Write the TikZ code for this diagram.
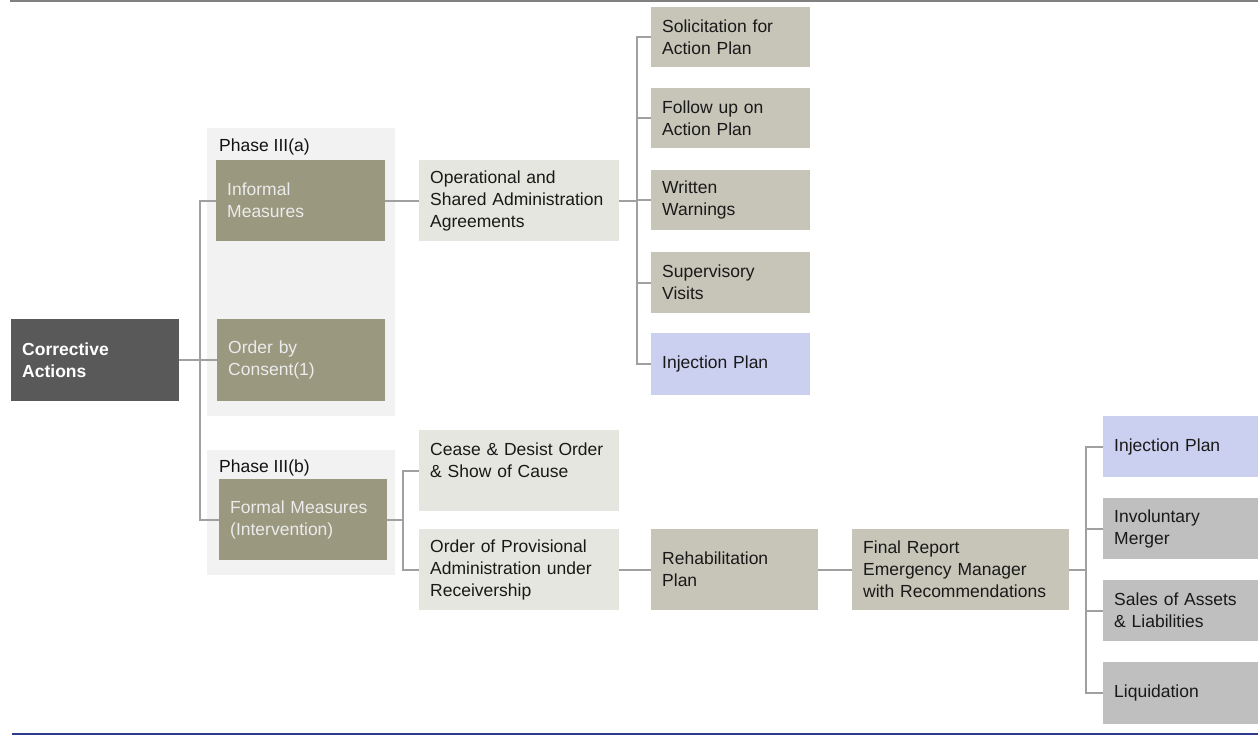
\documentclass[tikz,border=0pt]{standalone}
\usepackage{fontspec}
\setmainfont{Liberation Sans}
\usepackage{xcolor}
\usetikzlibrary{positioning,calc}

\definecolor{boxdark}{HTML}{595959}
\definecolor{boxolive}{HTML}{9B9880}
\definecolor{boxpale}{HTML}{E6E6E0}
\definecolor{boxtan}{HTML}{C7C5B8}
\definecolor{boxlilac}{HTML}{CCD0F0}
\definecolor{boxgrey}{HTML}{BFBFBF}
\definecolor{phasebg}{HTML}{F2F2F2}
\definecolor{linkgrey}{HTML}{A0A0A0}
\definecolor{rulenavy}{HTML}{2E3A8C}

\tikzset{
    card/.style args={#1/#2}{rectangle, anchor=north west, minimum width=#1pt,
        minimum height=#2pt, inner xsep=11pt, inner ysep=0pt, text width={(#1-22)*1pt},
        align=left, font=\fontsize{17.5}{22}\selectfont},
    dark/.style={fill=boxdark, text=white, font=\fontsize{17.5}{22}\selectfont\bfseries},
    olive/.style={fill=boxolive, text=white!92!black},
    pale/.style={fill=boxpale, text=black!90},
    tan/.style={fill=boxtan, text=black!90},
    lilac/.style={fill=boxlilac, text=black!90},
    grey/.style={fill=boxgrey, text=black!90},
    phase/.style={anchor=west, inner sep=0pt, font=\fontsize{17.5}{22}\selectfont, text=black!93},
    link/.style={draw=linkgrey, line width=2pt}
}

\begin{document}
\begin{tikzpicture}[x=1pt, y=-1pt]
    \useasboundingbox (0,0) rectangle (1258,736);
    % page rules
    \draw[gray, line width=2pt] (10,1) -- (1258,1);
    \draw[rulenavy, line width=2.5pt] (12,734) -- (1258,734);

    % phase backgrounds
    \fill[phasebg] (207,128) rectangle (395,416);
    \fill[phasebg] (207,450) rectangle (395,575);
    \node[phase] (phasea) at (219,147) {Phase III(a)};
    \node[phase] (phaseb) at (219,468) {Phase III(b)};

    % root and phase measures
    \node[card=168/82, dark] (corr) at (11,319) {Corrective\\Actions};
    \node[card=169/81, olive] (informal) at (216,160) {Informal\\Measures};
    \node[card=168/82, olive] (consent) at (217,319) {Order by\\Consent(1)};
    \node[card=168/81, olive] (formal) at (219,479) {Formal Measures\\(Intervention)};

    % informal branch
    \node[card=200/81, pale] (oper) at (419,160) {Operational and\\Shared Administration\\Agreements};
    \node[card=159/60, tan] (solic) at (651,7) {Solicitation for\\Action Plan};
    \node[card=159/60, tan] (follow) at (651,88) {Follow up on\\Action Plan};
    \node[card=159/60, tan] (warn) at (651,170) {Written\\Warnings};
    \node[card=159/61, tan] (visits) at (651,252) {Supervisory\\Visits};
    \node[card=159/62, lilac] (injecta) at (651,333) {Injection Plan};

    % formal branch
    \node[card=200/81, pale] (cease) at (419,430) {Cease \& Desist Order\\\& Show of Cause\\\mbox{}};
    \node[card=200/81, pale] (provis) at (419,529) {Order of Provisional\\Administration under\\Receivership};
    \node[card=167/81, tan] (rehab) at (651,529) {Rehabilitation\\Plan};
    \node[card=217/81, tan] (final) at (852,529) {Final Report\\Emergency Manager\\with Recommendations};
    \node[card=155/61, lilac] (injectb) at (1103,416) {Injection Plan};
    \node[card=155/61, grey] (merger) at (1103,498) {Involuntary\\Merger};
    \node[card=155/61, grey] (sales) at (1103,580) {Sales of Assets\\\& Liabilities};
    \node[card=155/62, grey] (liquid) at (1103,662) {Liquidation};

    % forks
    \coordinate (fork1) at ($(corr.east)+(21,0)$);
    \coordinate (fork2) at ($(oper.east)+(18,0)$);
    \coordinate (fork3) at ($(formal.east)+(16,0)$);
    \coordinate (fork4) at ($(final.east)+(17,0)$);

    \draw[link] (corr.east) -- (fork1);
    \foreach \kid in {informal,consent,formal}
        \draw[link] (fork1) |- (\kid.west);

    \draw[link] (informal.east) -- (oper.west);
    \draw[link] (oper.east) -- (fork2);
    \foreach \kid in {solic,follow,warn,visits,injecta}
        \draw[link] (fork2) |- (\kid.west);

    \draw[link] (formal.east) -- (fork3);
    \foreach \kid in {cease,provis}
        \draw[link] (fork3) |- (\kid.west);

    \draw[link] (provis.east) -- (rehab.west);
    \draw[link] (rehab.east) -- (final.west);
    \draw[link] (final.east) -- (fork4);
    \foreach \kid in {injectb,merger,sales,liquid}
        \draw[link] (fork4) |- (\kid.west);
\end{tikzpicture}
\end{document}
